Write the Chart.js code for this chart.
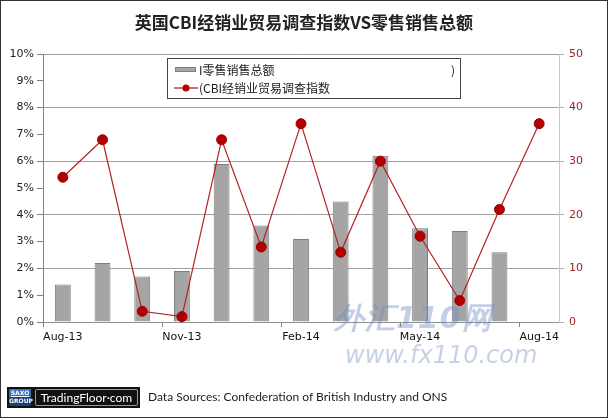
<!DOCTYPE html>
<html>
<head>
<meta charset="utf-8">
<script src="https://cdn.jsdelivr.net/npm/chart.js@4"></script>
<style>
  body { margin: 0; background: #fff; }
  .wrap { position: relative; width: 608px; height: 418px; overflow: hidden; background: #fff; }
  canvas { position: absolute; left: 0; top: 0; }
  .frame { position: absolute; left: 0; top: 0; width: 606px; height: 416px; border: 1px solid #333; pointer-events: none; }
  .title { position: absolute; left: 0; top: 10px; width: 608px; text-align: center;
    font: bold 17px "Noto Sans CJK SC", sans-serif; color: #222; line-height: 24px; }
  .wm1 { position: absolute; left: 334px; top: 298px; font: italic bold 30px "DejaVu Sans", sans-serif;
    color: rgba(110,140,195,0.42); letter-spacing: 1px; }
  .wm2 { position: absolute; left: 345px; top: 341px; font: italic 24px "DejaVu Sans", sans-serif;
    color: rgba(110,140,195,0.4); }
  .logo { position: absolute; left: 7px; top: 387px; width: 133px; height: 21px; background: #111; }
  .saxo { position: absolute; left: 2px; top: 2px; width: 22px; height: 17px; background: #1d3f7a;
    color: #fff; font: bold 6px "DejaVu Sans", sans-serif; text-align: center; line-height: 8px; }
  .saxo b { display: block; background: #3a6bc0; text-decoration: underline; }
  .bubble { position: absolute; left: 28px; top: 2px; width: 101px; height: 15px; border: 1px solid #999;
    border-radius: 2px; color: #fff; font: 12px Lato, sans-serif; line-height: 15px; text-align: center; }
  .src { position: absolute; left: 148px; top: 389px; font: 12px Lato, sans-serif; color: #222; }
</style>
</head>
<body>
<div class="wrap">
  <canvas id="chart" width="608" height="418"></canvas>
  <div class="title">英国CBI经销业贸易调查指数VS零售销售总额</div>
  <div class="wm1">外汇110网</div>
  <div class="wm2">www.fx110.com</div>
  <div class="logo"><div class="saxo"><b>SAXO</b>GROUP</div><div class="bubble">TradingFloor·com</div></div>
  <div class="src">Data Sources: Confederation of British Industry and ONS</div>
  <div class="frame"></div>
</div>
<script>
const months = ['Aug-13', 'Sep-13', 'Oct-13', 'Nov-13', 'Dec-13', 'Jan-14', 'Feb-14',
  'Mar-14', 'Apr-14', 'May-14', 'Jun-14', 'Jul-14', 'Aug-14'];
const retailSales = [1.4, 2.2, 1.7, 1.9, 5.9, 3.6, 3.1, 4.5, 6.2, 3.5, 3.4, 2.6, null];
const cbiIndex = [27, 34, 2, 1, 34, 14, 37, 13, 30, 16, 4, 21, 37];
const retailLabel = 'I零售销售总额';
const cbiLabel = '(CBI经销业贸易调查指数';

const tickFont = { family: 'DejaVu Sans', size: 11 };

// legend box sits inside the plot, so draw it by hand
const boxLegend = {
  id: 'boxLegend',
  afterDraw(chart) {
    const c = chart.ctx;
    const ds = chart.data.datasets;
    c.save();
    c.fillStyle = '#fff';
    c.fillRect(167, 58, 293, 40);
    c.strokeStyle = '#444';
    c.lineWidth = 1;
    c.strokeRect(167.5, 58.5, 293, 40);
    // bar swatch
    c.fillStyle = '#a5a5a5';
    c.fillRect(175, 67, 20, 4);
    c.strokeStyle = '#808080';
    c.strokeRect(175.5, 67.5, 20, 4);
    // line swatch
    c.strokeStyle = '#b22222';
    c.lineWidth = 1.3;
    c.beginPath(); c.moveTo(174, 88); c.lineTo(198, 88); c.stroke();
    c.fillStyle = '#b00000';
    c.beginPath(); c.arc(186, 88, 3.5, 0, Math.PI * 2); c.fill();
    c.fillStyle = '#222';
    c.font = '12px "Noto Sans CJK SC"';
    c.textBaseline = 'middle';
    c.fillText(ds[1].label, 199, 70);
    c.fillText(')', 451, 70);
    c.fillText(ds[0].label, 199, 88);
    c.restore();
  }
};

new Chart(document.getElementById('chart'), {
  data: {
    labels: months,
    datasets: [{
      type: 'line',
      label: cbiLabel,
      data: cbiIndex,
      yAxisID: 'y1',
      borderColor: '#b22222',
      borderWidth: 1.2,
      pointRadius: 5,
      pointBackgroundColor: '#b00000',
      pointBorderColor: '#a00000',
      pointBorderWidth: 1,
      tension: 0,
      order: 0
    }, {
      type: 'bar',
      label: retailLabel,
      data: retailSales,
      yAxisID: 'y',
      backgroundColor: '#a5a5a5',
      borderColor: '#7f7f7f',
      borderWidth: 1,
      categoryPercentage: 1,
      barPercentage: 0.4,
      order: 1
    }]
  },
  options: {
    responsive: false,
    animation: false,
    devicePixelRatio: 1,
    layout: { padding: { top: 54, left: 0, right: 0, bottom: 0 } },
    plugins: { legend: { display: false }, tooltip: { enabled: false } },
    scales: {
      x: {
        afterFit: (s) => { s.height = 96; },
        grid: {
          offset: true,
          drawOnChartArea: false,
          tickLength: 5,
          tickColor: (ctx) => ctx.index % 3 === 0 ? '#808080' : 'rgba(0,0,0,0)'
        },
        border: { color: '#909090' },
        ticks: {
          autoSkip: false,
          maxRotation: 0,
          padding: 4,
          color: '#111',
          font: tickFont,
          callback: function (v, i) { return i % 3 === 0 ? this.getLabelForValue(v) : ''; }
        }
      },
      y: {
        position: 'left',
        min: 0,
        max: 10,
        afterFit: (s) => { s.width = 43; },
        grid: {
          tickLength: 6,
          color: (ctx) => ctx.tick.value % 2 === 0 && ctx.tick.value > 0 ? '#a0a0a0' : 'rgba(0,0,0,0)',
          tickColor: '#808080'
        },
        border: { color: '#808080' },
        ticks: { stepSize: 1, padding: 3, color: '#222', font: tickFont, callback: (v) => v + '%' }
      },
      y1: {
        position: 'right',
        min: 0,
        max: 50,
        afterFit: (s) => { s.width = 49; },
        grid: { drawOnChartArea: false, tickLength: 5, tickColor: '#b0b0b0' },
        border: { color: '#c8c8c8' },
        ticks: { stepSize: 10, padding: 5, color: '#9b2323', font: tickFont }
      }
    }
  },
  plugins: [boxLegend]
});
</script>
</body>
</html>
